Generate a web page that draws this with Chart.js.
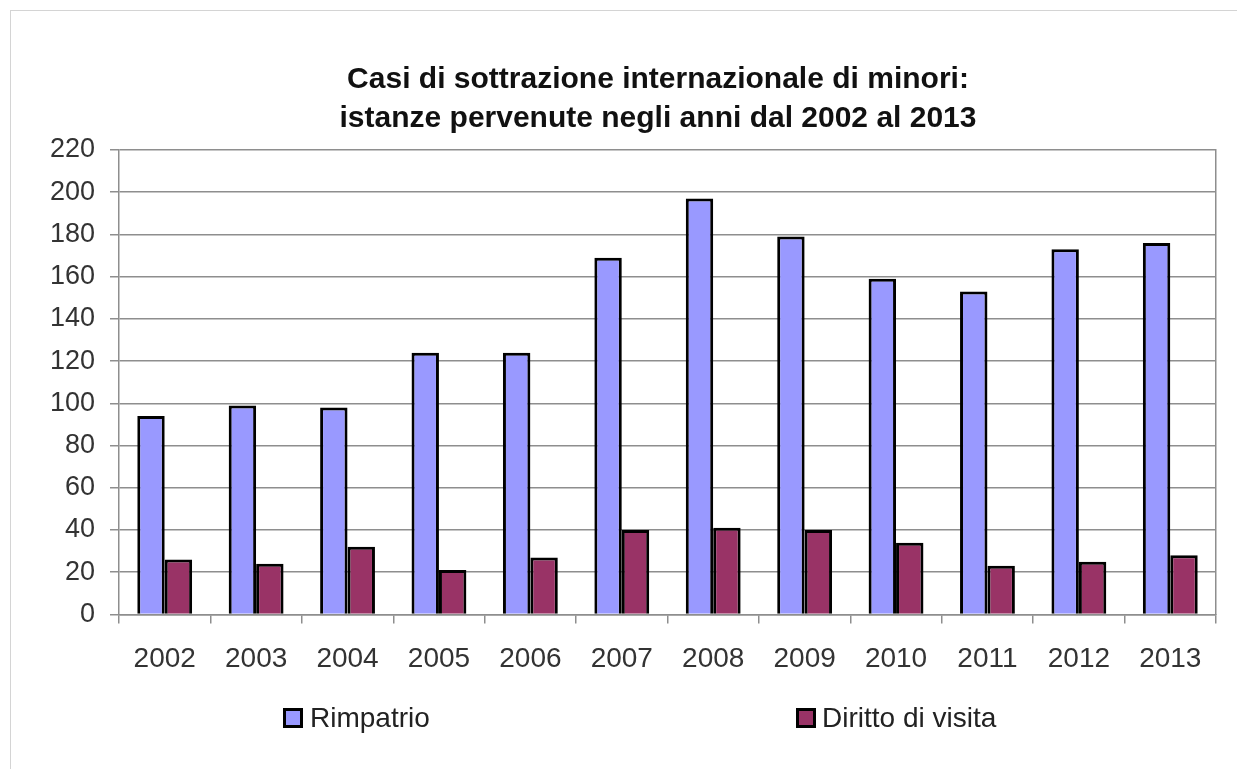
<!DOCTYPE html>
<html>
<head>
<meta charset="utf-8">
<script src="https://cdn.jsdelivr.net/npm/chart.js@4"></script>
<style>
  body { margin: 0; background: #fff; font-family: "Liberation Sans", Arial, sans-serif; }
  #wrap { position: relative; width: 1237px; height: 769px; overflow: hidden; }
  #frame { position: absolute; left: 10px; top: 10px; width: 1240px; height: 770px; border: 1px solid #d4d4d4; }
  #myChart { position: absolute; left: 0; top: 0; }
  #legend { position: absolute; top: 703px; left: 0; width: 1237px; height: 30px; }
  .item { position: absolute; top: 0; height: 30px; line-height: 30px; font-size: 28px; color: #222; white-space: nowrap; }
  .box { position: absolute; top: 5px; width: 14px; height: 14px; border: 3px solid #000; }
</style>
</head>
<body>
<div id="wrap">
  <div id="frame"></div>
  <canvas id="myChart"></canvas>
  <div id="legend"></div>
</div>
<script>
// data
const years = ['2002', '2003', '2004', '2005', '2006', '2007', '2008', '2009', '2010', '2011', '2012', '2013'];
const rimpatrio = [94, 99, 98, 124, 124, 169, 197, 179, 159, 153, 173, 176];
const dirittoDiVisita = [26, 24, 32, 21, 27, 40, 41, 40, 34, 23, 25, 28];
const seriesNames = ['Rimpatrio', 'Diritto di visita'];
const yMin = 0, yMax = 220, yStep = 20;
const titleLines = ['Casi di sottrazione internazionale di minori:', 'istanze pervenute negli anni dal 2002 al 2013'];

const colors = ['#9999FF', '#993366'];
const gridColor = '#8e8e8e';
const font = '"Liberation Sans", Arial, sans-serif';

// canvas is a bit wider than the window so the title centres like the original;
// the extra bit on the right is taken by an empty axis and hidden by the wrapper
const canvas = document.getElementById('myChart');
canvas.width = 1306;
canvas.height = 769;

new Chart(canvas.getContext('2d'), {
    type: 'bar',
    data: {
        labels: years,
        datasets: [
            { label: seriesNames[0], data: rimpatrio, backgroundColor: colors[0], borderColor: '#000', borderWidth: 3 },
            { label: seriesNames[1], data: dirittoDiVisita, backgroundColor: colors[1], borderColor: '#000', borderWidth: 3 }
        ]
    },
    options: {
        responsive: false,
        animation: false,
        layout: { padding: { top: 0, left: 10, right: 0, bottom: 74 } },
        datasets: { bar: { barPercentage: 1, categoryPercentage: 0.6 } },
        plugins: {
            legend: { display: false },
            tooltip: { enabled: false },
            title: {
                display: true,
                text: titleLines,
                color: '#111',
                font: { family: font, size: 30, weight: 'bold', lineHeight: 1.3 },
                padding: { top: 60, bottom: 12 }
            }
        },
        scales: {
            x: {
                grid: { offset: true, drawOnChartArea: false, color: gridColor, lineWidth: 1.5, tickLength: 9 },
                border: { color: gridColor, width: 1.5 },
                ticks: { color: '#333', padding: 19, font: { family: font, size: 28 } }
            },
            y: {
                min: yMin,
                max: yMax,
                afterFit: (s) => { s.width = 109; },
                grid: { color: gridColor, lineWidth: 1.5, tickLength: 9 },
                border: { color: gridColor, width: 1.5 },
                ticks: { stepSize: yStep, color: '#333', padding: 15, font: { family: font, size: 27 } }
            },
            // right edge of the plot frame
            y2: {
                position: 'right',
                min: yMin,
                max: yMax,
                afterFit: (s) => { s.width = 90; },
                grid: { display: false },
                border: { color: gridColor, width: 1.5 },
                ticks: { display: false }
            }
        }
    }
});

// html legend, spread out like the original
const legendPos = [{ box: 283, text: 310 }, { box: 796, text: 822 }];
const legend = document.getElementById('legend');
seriesNames.forEach((name, i) => {
    legend.innerHTML += `<div class="box" style="left:${legendPos[i].box}px;background:${colors[i]}"></div>` +
        `<div class="item" style="left:${legendPos[i].text}px">${name}</div>`;
});
</script>
</body>
</html>
